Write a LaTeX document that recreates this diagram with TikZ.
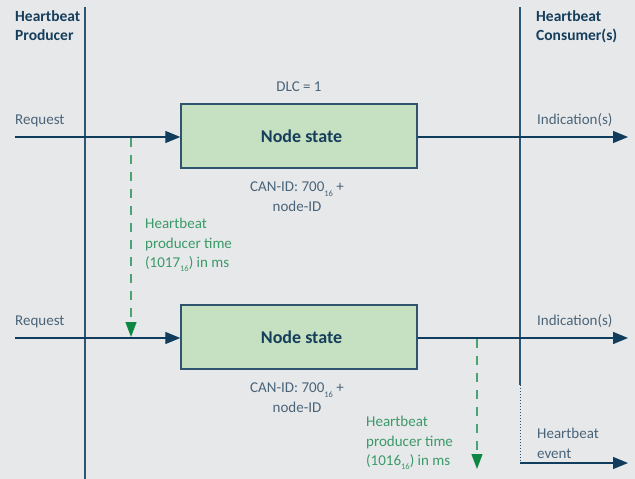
\documentclass[tikz,border=0pt]{standalone}
\usepackage{fontspec}
\setmainfont{Carlito}
\usetikzlibrary{arrows.meta}

\definecolor{bgcol}{HTML}{E7E8EA}
\definecolor{navy}{HTML}{103C5E}
\definecolor{lifeline}{HTML}{2C5676}
\definecolor{labelcol}{HTML}{4A6479}
\definecolor{headcol}{HTML}{153E5C}
\definecolor{boxfill}{HTML}{C5E1C1}
\definecolor{boxdraw}{HTML}{2E5470}
\definecolor{greentxt}{HTML}{3A9A68}
\definecolor{greenline}{HTML}{4AA372}
\definecolor{greentip}{HTML}{0E8744}

\newcommand{\hexsub}[1]{\raisebox{-0.6ex}{\fontsize{8.5}{9}\selectfont #1}}

\tikzset{
  x=1pt, y=-1pt,
  lbl/.style={font=\fontsize{15}{19.5}\selectfont, text=labelcol, inner sep=0pt},
  head/.style={font=\fontsize{15.5}{19.5}\selectfont\bfseries, text=headcol, inner sep=0pt, align=left},
  glbl/.style={font=\fontsize{15}{19.5}\selectfont, text=greentxt, inner sep=0pt, align=left},
  msgbox/.style={draw=boxdraw, line width=1.4pt, fill=boxfill, minimum width=236pt, minimum height=64pt,
                 inner sep=0pt, font=\fontsize{18}{22}\selectfont\bfseries, text=headcol},
  life/.style={draw=lifeline, line width=1.2pt},
  msg/.style={draw=navy, line width=1.3pt, -{Triangle[length=15pt,width=12pt]}},
  timer/.style={draw=greenline, line width=1.3pt, dash pattern=on 9pt off 8pt,
                -{Triangle[length=15pt,width=11pt,color=greentip,fill=greentip]}}
}

\begin{document}
\begin{tikzpicture}
  \fill[bgcol] (0,0) rectangle (635,479);
  \useasboundingbox (0,0) rectangle (635,479);

  % lifelines
  \coordinate (prodTop) at (85,7);
  \coordinate (prodBot) at (85,479);
  \coordinate (consTop) at (520,7);
  \coordinate (consMid) at (520,385);
  \coordinate (consBot) at (520,463);
  \draw[life] (prodTop) -- (prodBot);
  \draw[life] (consTop) -- (consMid);
  \draw[lifeline, line width=1pt, dotted] (consMid) -- (consBot);

  \node[head, anchor=north west] (hprod) at (15,10) {Heartbeat\\Producer};
  \node[head, anchor=north west] (hcons) at (536,10) {Heartbeat\\Consumer(s)};

  % first heartbeat message
  \node[msgbox] (box1) at (299,136) {\hspace*{5pt}Node state};
  \node[lbl] (dlc) at (299,87) {DLC = 1};
  \node[lbl, align=center, anchor=north] (can1) at (297,182) {CAN-ID: 700\hexsub{16} +\\node-ID};
  \coordinate (req1) at (15,137);
  \coordinate (ind1) at (628,137);
  \draw[msg] (req1) -- (box1.west |- req1);
  \draw[msg] (box1.east |- ind1) -- (ind1);
  \node[lbl, anchor=base west] (reqt1) at (15,124) {Request};
  \node[lbl, anchor=base west] (indt1) at (537,124) {Indication(s)};

  % producer timer 1
  \coordinate (t1s) at (131,138);
  \coordinate (t1e) at (131,337);
  \draw[timer] (t1s) -- (t1e);
  \node[glbl, anchor=north west] (gt1) at (145,218) {Heartbeat\\producer time\\(1017\hexsub{16}) in ms};

  % second heartbeat message
  \node[msgbox] (box2) at (299,337) {\hspace*{5pt}Node state};
  \node[lbl, align=center, anchor=north] (can2) at (297,383) {CAN-ID: 700\hexsub{16} +\\node-ID};
  \coordinate (req2) at (15,338);
  \coordinate (ind2) at (628,338);
  \draw[msg] (req2) -- (box2.west |- req2);
  \draw[msg] (box2.east |- ind2) -- (ind2);
  \node[lbl, anchor=base west] (reqt2) at (15,325) {Request};
  \node[lbl, anchor=base west] (indt2) at (537,325) {Indication(s)};

  % producer timer 2
  \coordinate (t2s) at (477,339);
  \coordinate (t2e) at (477,469);
  \draw[timer] (t2s) -- (t2e);
  \node[glbl, anchor=north west] (gt2) at (366,416) {Heartbeat\\producer time\\(1016\hexsub{16}) in ms};

  % heartbeat event
  \coordinate (evEnd) at (628,463);
  \draw[msg] (consBot) -- (evEnd);
  \node[lbl, align=left, anchor=north west] (evt) at (537,428) {Heartbeat\\event};
\end{tikzpicture}
\end{document}
